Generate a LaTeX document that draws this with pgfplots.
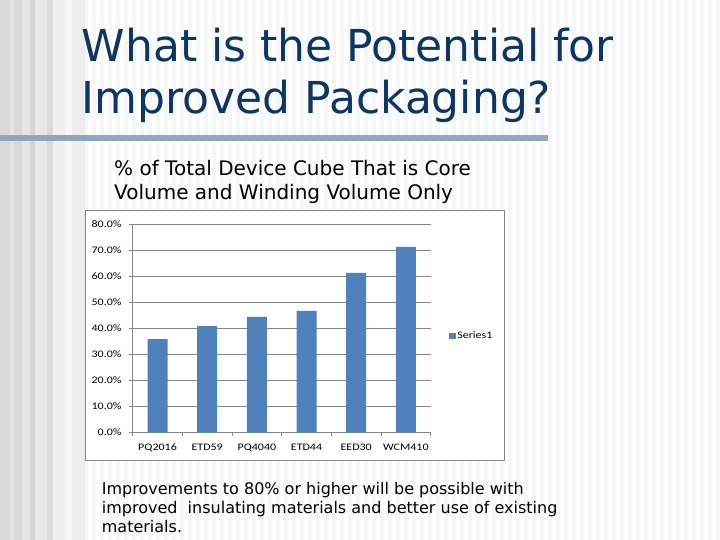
\documentclass[border=0pt]{standalone}
\usepackage{fontspec}
\setmainfont{DejaVu Sans}
\newfontfamily\chartfont{Carlito}
\usepackage{graphicx}
\usepackage{pgfplots}
\pgfplotsset{compat=1.18}
\definecolor{barblue}{RGB}{79,129,189}
\definecolor{titleblue}{RGB}{12,55,100}
\definecolor{barline}{RGB}{143,165,192}
\definecolor{framegray}{RGB}{134,134,134}
\definecolor{axgray}{RGB}{134,134,134}
\definecolor{stripe}{RGB}{246,246,246}
\newcommand\cl[1]{\scalebox{1.2}[1]{#1}}
\begin{document}
\begin{tikzpicture}[x=1bp,y=1bp]
\useasboundingbox (0,0) rectangle (720,540);
\fill[white] (0,0) rectangle (720,540);
\foreach \i in {0,...,89} {\fill[stripe] (\i*8+4,0) rectangle (\i*8+8,540);}
\foreach \a/\b/\g in {0/10/85, 10/14/89, 14/22/85, 22/30/90, 30/35/84, 35/47/91, 47/53/86, 53/65/94, 65/72/97, 72/85/93}
  {\fill[white!\g!black] (\a,0) rectangle (\b,540);}
\fill[barline] (0,399) rectangle (548,405);
\node[anchor=base west, inner sep=0pt, text=titleblue, font=\fontsize{44bp}{52bp}\selectfont] at (81.5,478) {What is the Potential for};
\node[anchor=base west, inner sep=0pt, text=titleblue, font=\fontsize{44bp}{52bp}\selectfont] at (81.5,426) {Improved Packaging?};
\node[anchor=base west, inner sep=0pt, font=\fontsize{20bp}{24bp}\selectfont] at (114,364) {\% of Total Device Cube That is Core};
\node[anchor=base west, inner sep=0pt, font=\fontsize{20bp}{24bp}\selectfont] at (114,340) {Volume and Winding Volume Only};
\node[anchor=base west, inner sep=0pt, font=\fontsize{16bp}{19bp}\selectfont] at (101.7,45.5) {Improvements to 80\% or higher will be possible with};
\node[anchor=base west, inner sep=0pt, font=\fontsize{16bp}{19bp}\selectfont] at (101.7,26) {improved\ \ insulating materials and better use of existing};
\node[anchor=base west, inner sep=0pt, font=\fontsize{16bp}{19bp}\selectfont] at (101.7,7) {materials.};
\filldraw[fill=white, draw=framegray, line width=0.75bp] (85.5,79.3) rectangle (504.3,330);
\begin{axis}[
  at={(132.7bp,107.7bp)}, anchor=south west,
  scale only axis, width=298bp, height=208.3bp,
  xmin=-0.5, xmax=5.5, ymin=0, ymax=80,
  axis lines=left, axis line style={-, draw=axgray, line width=0.75bp},
  ybar, bar width=20bp,
  tick align=outside, major tick length=4bp,
  tick style={draw=axgray, line width=0.75bp},
  xtick={-0.5,0.5,...,5.5}, xticklabels={},
  extra x ticks={0,1,2,3,4,5},
  extra x tick labels={\cl{PQ2016},\cl{ETD59},\cl{PQ4040},\cl{ETD44},\cl{EED30},\cl{WCM410}},
  extra x tick style={major tick length=0pt, xticklabel style={anchor=north, inner sep=0pt, yshift=-11.7bp}},
  ytick={0,10,...,80},
  yticklabels={\cl{0.0\%},\cl{10.0\%},\cl{20.0\%},\cl{30.0\%},\cl{40.0\%},\cl{50.0\%},\cl{60.0\%},\cl{70.0\%},\cl{80.0\%}},
  yticklabel style={anchor=east, inner sep=0pt, xshift=-7bp},
  ticklabel style={font=\chartfont\fontsize{10bp}{12bp}\selectfont, text=black},
  ymajorgrids, major grid style={draw=axgray, line width=0.75bp},
  legend style={at={(1.0614,0.4623)}, anchor=west, draw=none, fill=none, inner sep=0pt,
    font=\chartfont\fontsize{10bp}{12bp}\selectfont, nodes={inner sep=0pt},
    /tikz/every odd column/.append style={column sep=1.7bp}},
  legend cell align=left,
]
\addplot[fill=barblue, draw=none, legend image code/.code={\fill[barblue] (0bp,-3.3bp) rectangle (6.4bp,3.3bp);}]
  coordinates {(0,35.8) (1,40.8) (2,44.3) (3,46.6) (4,61.2) (5,71.2)};
\addlegendentry{\cl{Series1}}
\end{axis}
\end{tikzpicture}
\end{document}
